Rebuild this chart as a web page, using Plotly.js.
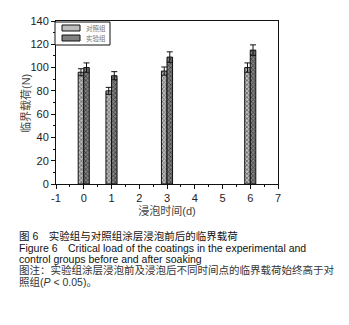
<!DOCTYPE html>
<html><head><meta charset="utf-8">
<script src="https://cdn.plot.ly/plotly-3.0.1.min.js"></script>
<style>body{margin:0;background:#fff}#c{width:349px;height:325px}</style>
</head><body><div id="c"></div>
<script>
const days = [0, 1, 3, 6];
const controlVals = [96, 80, 97, 100];
const controlErr = [3, 3, 3.5, 4];
const expVals = [100, 93, 109, 115];
const expErr = [4, 3.5, 4.5, 4.5];
const seriesNames = ['对照组', '实验组'];
const yTicks = [0, 20, 40, 60, 80, 100, 120, 140];
const xTicks = [-1, 0, 1, 2, 3, 4, 5, 6, 7];
const captionLines = [
  '图 6　实验组与对照组涂层浸泡前后的临界载荷',
  'Figure 6　Critical load of the coatings in the experimental and',
  'control groups before and after soaking',
  '图注：实验组涂层浸泡前及浸泡后不同时间点的临界载荷始终高于对',
  '照组(<i>P</i> < 0.05)。'
];

const tickFont = {family: 'Liberation Sans, Arial, sans-serif', size: 11, color: '#222'};
const cjk = 'Liberation Sans, Noto Sans CJK SC, sans-serif';
const colors = [{bg: '#bdbdbd', fg: '#555'}, {bg: '#808080', fg: '#333'}];

const traces = [
  {type: 'bar', x: days.map(d => d - 0.1), y: controlVals, width: 0.2, name: seriesNames[0],
   marker: {color: colors[0].bg, line: {color: '#111', width: 1},
     pattern: {shape: 'x', fgcolor: colors[0].fg, bgcolor: colors[0].bg, size: 3, solidity: 0.4}},
   error_y: {type: 'data', array: controlErr, color: '#111', thickness: 1, width: 3}},
  {type: 'bar', x: days.map(d => d + 0.1), y: expVals, width: 0.2, name: seriesNames[1],
   marker: {color: colors[1].bg, line: {color: '#111', width: 1},
     pattern: {shape: 'x', fgcolor: colors[1].fg, bgcolor: colors[1].bg, size: 3, solidity: 0.4}},
   error_y: {type: 'data', array: expErr, color: '#111', thickness: 1, width: 3}}
];

const mT = 21, mB = 141, mL = 56, mR = 71;
const plotH = 325 - mT - mB, plotW = 349 - mL - mR;
const py = yp => (325 - mB - yp) / plotH;
const px = xp => (xp - mL) / plotW;
const capY = [236, 248, 259, 270, 282];
const annotations = captionLines.map((t, i) => ({
  text: t, xref: 'paper', yref: 'paper', x: px(17), y: py(capY[i]),
  xanchor: 'left', yanchor: 'middle', showarrow: false,
  font: {family: cjk, size: 10.5, color: i < 3 ? '#111' : '#333'}
}));

// y-axis title
annotations.push({text: '临界载荷(N)', xref: 'paper', yref: 'paper', x: px(26), y: py(104),
  xanchor: 'center', yanchor: 'middle', textangle: -90, showarrow: false,
  font: {family: cjk, size: 11, color: '#444'}});

// custom legend
const shapes = [{type: 'rect', xref: 'paper', yref: 'paper', x0: px(55), x1: px(110), y0: py(22), y1: py(45),
  line: {color: '#111', width: 1}, fillcolor: '#fff'}];
seriesNames.forEach((n, i) => {
  const yc = 28 + i * 10;
  shapes.push({type: 'rect', xref: 'paper', yref: 'paper', x0: px(62), x1: px(80), y0: py(yc - 3), y1: py(yc + 3),
    line: {color: '#111', width: 1}, fillcolor: colors[i].bg});
  annotations.push({text: n, xref: 'paper', yref: 'paper', x: px(84), y: py(yc), xanchor: 'left', yanchor: 'middle',
    showarrow: false, font: {family: 'Noto Sans CJK SC, sans-serif', size: 6.5, color: '#777'}});
});

const layout = {
  width: 349, height: 325,
  margin: {l: mL, r: mR, t: mT, b: mB, pad: 0},
  paper_bgcolor: '#fff', plot_bgcolor: '#fff',
  barmode: 'overlay', bargap: 0,
  showlegend: false,
  xaxis: {range: [-1, 7], tickvals: xTicks, ticktext: xTicks.map(String),
    ticks: 'outside', ticklen: 4, tickcolor: '#111', showline: true, linecolor: '#111', linewidth: 1,
    mirror: true, showgrid: false, zeroline: false, tickfont: tickFont,
    minor: {dtick: 0.5, tick0: -1, ticks: 'outside', ticklen: 2, tickcolor: '#111'},
    title: {text: '浸泡时间(d)', font: {family: cjk, size: 11, color: '#444'}, standoff: 4}},
  yaxis: {range: [0, 140], tickvals: yTicks, ticks: 'outside', ticklen: 4, tickcolor: '#111',
    showline: true, linecolor: '#111', linewidth: 1, mirror: true, showgrid: false, zeroline: false,
    tickfont: tickFont,
    minor: {dtick: 10, tick0: 0, ticks: 'outside', ticklen: 2, tickcolor: '#111'}},
  shapes: shapes,
  annotations: annotations
};

Plotly.newPlot('c', traces, layout, {staticPlot: true, displayModeBar: false});
</script></body></html>
